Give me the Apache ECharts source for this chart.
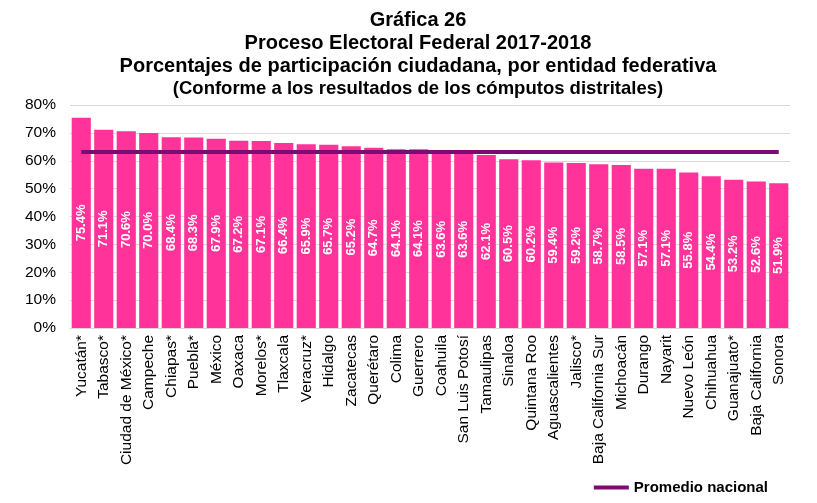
<!DOCTYPE html>
<html>
<head>
<meta charset="utf-8">
<script src="https://cdn.jsdelivr.net/npm/echarts@6/dist/echarts.min.js"></script>
<style>html,body{margin:0;padding:0;background:#fff;}#c{width:817px;height:503px;}</style>
</head>
<body>
<div id="c"></div>
<script>
const categories = ["Yucatán*","Tabasco*","Ciudad de México*","Campeche","Chiapas*","Puebla*","México","Oaxaca","Morelos*","Tlaxcala","Veracruz*","Hidalgo","Zacatecas","Querétaro","Colima","Guerrero","Coahuila","San Luis Potosí","Tamaulipas","Sinaloa","Quintana Roo","Aguascalientes","Jalisco*","Baja California Sur","Michoacán","Durango","Nayarit","Nuevo León","Chihuahua","Guanajuato*","Baja California","Sonora"];
const participacion = [75.4,71.1,70.6,70.0,68.4,68.3,67.9,67.2,67.1,66.4,65.9,65.7,65.2,64.7,64.1,64.1,63.6,63.6,62.1,60.5,60.2,59.4,59.2,58.7,58.5,57.1,57.1,55.8,54.4,53.2,52.6,51.9];
const promedioNacional = 63.4;
const titleLines = ["Gráfica 26","Proceso Electoral Federal 2017-2018","Porcentajes de participación ciudadana, por entidad federativa"];
const subtitle = "(Conforme a los resultados de los cómputos distritales)";

const chart = echarts.init(document.getElementById('c'), null, {renderer:'canvas'});
const font = 'Arial, "Liberation Sans", sans-serif';
chart.setOption({
  animation:false,
  backgroundColor:'#fff',
  title:{
    text: titleLines.join('\n'),
    subtext: subtitle,
    left: 413, textAlign:'center', top: 4,
    itemGap: 0,
    textStyle:{fontFamily:font,fontWeight:'bold',fontSize:20,color:'#000',lineHeight:23},
    subtextStyle:{fontFamily:font,fontWeight:'bold',fontSize:18.5,color:'#000',lineHeight:22}
  },
  legend:{
    show:true,
    right: 44, bottom: 3,
    itemWidth: 35, itemHeight: 4,
    textStyle:{fontFamily:font,fontWeight:'bold',fontSize:15,color:'#000'},
    data:[{name:'Promedio nacional', icon:'rect', itemStyle:{color:'#7A0C74'}}]
  },
  grid:{left:70,right:27,top:105,bottom:175,containLabel:false},
  xAxis:{
    type:'category',
    data:categories,
    axisTick:{show:false},
    axisLine:{lineStyle:{color:'#d9d9d9'}},
    axisLabel:{rotate:90,interval:0,fontFamily:font,fontSize:15.5,color:'#000',margin:7}
  },
  yAxis:{
    type:'value',min:0,max:80,interval:10,
    axisLabel:{formatter:'{value}%',fontFamily:font,fontSize:15.5,color:'#000',margin:14},
    splitLine:{lineStyle:{color:'#d9d9d9',width:1}},
    axisLine:{show:false},axisTick:{show:false}
  },
  series:[
    {
      name:'Participación',
      type:'bar',
      data:participacion,
      barCategoryGap:'15%',
      itemStyle:{color:'#FF3399'},
      label:{
        show:true,position:'inside',rotate:90,
        formatter:p=>p.value.toFixed(1)+'%',
        color:'#fff',fontFamily:font,fontWeight:'bold',fontSize:13
      },
      markLine:{
        silent:true,symbol:'none',
        label:{show:false},
        lineStyle:{color:'#7A0C74',width:4,type:'solid'},
        data:[[{coord:[categories[0],promedioNacional]},{coord:[categories[categories.length-1],promedioNacional]}]]
      }
    },
    {
      name:'Promedio nacional',
      type:'line',
      data:[],
      itemStyle:{color:'#7A0C74'},
      lineStyle:{color:'#7A0C74',width:4}
    }
  ]
});
</script>
</body>
</html>
